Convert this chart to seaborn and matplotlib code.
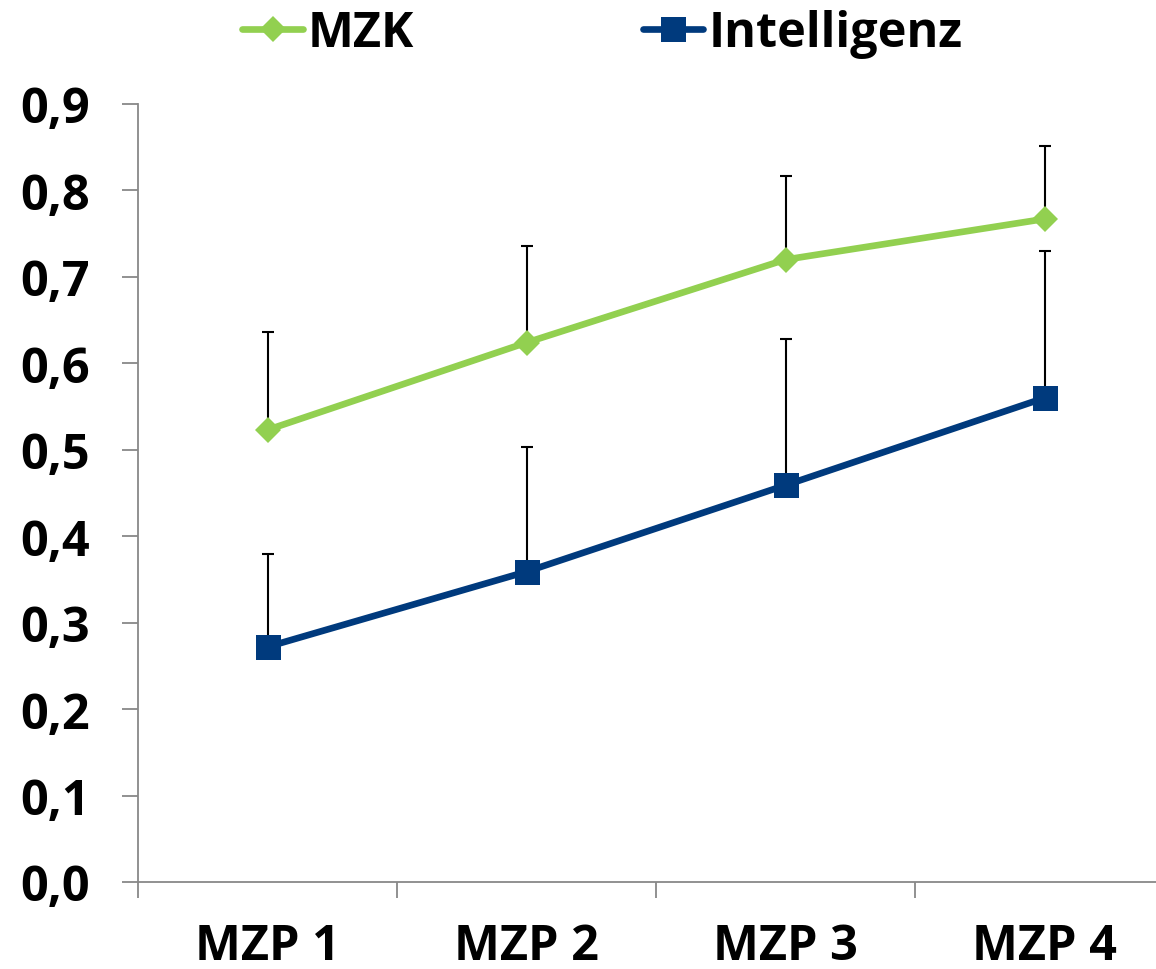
import numpy as np
import pandas as pd
import seaborn as sns
import matplotlib.pyplot as plt
from matplotlib.ticker import FixedLocator, FuncFormatter

# Messzeitpunkte und Werte
zeitpunkte = ["MZP 1", "MZP 2", "MZP 3", "MZP 4"]
mzk = [0.523, 0.624, 0.720, 0.767]
mzk_err = [0.113, 0.112, 0.097, 0.084]
intelligenz = [0.272, 0.359, 0.459, 0.560]
intelligenz_err = [0.107, 0.144, 0.169, 0.170]

colors = {"MZK": "#92D050", "Intelligenz": "#003A7D"}

df = pd.DataFrame({
    "pos": list(range(len(zeitpunkte))) * 2,
    "wert": mzk + intelligenz,
    "reihe": ["MZK"] * 4 + ["Intelligenz"] * 4,
})

sns.set_style("white", rc={"text.color": "black", "xtick.color": "black",
                           "ytick.color": "black", "axes.labelcolor": "black"})
plt.rcParams['font.family'] = ['Open Sans', 'DejaVu Sans']
plt.rcParams['font.weight'] = 'bold'

fig = plt.figure(figsize=(11.56, 9.70), dpi=100)
ax = fig.add_axes([138 / 1156, 87 / 970, 1036 / 1156, 778 / 970])

# Fehlerbalken nur nach oben
x = np.arange(len(zeitpunkte))
ax.errorbar(x, mzk, yerr=[np.zeros(4), mzk_err], fmt="none", ecolor="black",
            elinewidth=1.5, capsize=4.3, capthick=1.5, zorder=1)
ax.errorbar(x, intelligenz, yerr=[np.zeros(4), intelligenz_err], fmt="none", ecolor="black",
            elinewidth=1.5, capsize=4.3, capthick=1.5, zorder=1)

sns.lineplot(data=df, x="pos", y="wert", hue="reihe", style="reihe",
             palette=colors, markers={"MZK": "D", "Intelligenz": "s"},
             dashes=False, linewidth=4.8, markersize=13, markeredgewidth=0,
             ax=ax, legend=False, zorder=3)
# Quadrat etwas größer
for line in ax.lines:
    if line.get_marker() == "s":
        line.set_markersize(18)

ax.set_xlim(-0.5, 3.5)
ax.set_ylim(0, 0.9)
ax.set_xticks(x)
ax.set_xticklabels(zeitpunkte)
ax.xaxis.set_minor_locator(FixedLocator([-0.5, 0.5, 1.5, 2.5, 3.5]))
ax.set_yticks(np.arange(0, 0.91, 0.1))
ax.yaxis.set_major_formatter(FuncFormatter(lambda v, p: f"{v:.1f}".replace(".", ",")))
ax.set_xlabel("")
ax.set_ylabel("")

for s in ["top", "right"]:
    ax.spines[s].set_visible(False)
for s in ["left", "bottom"]:
    ax.spines[s].set_color("#888888")
    ax.spines[s].set_linewidth(1.3)

ax.tick_params(axis="x", which="major", bottom=True, length=0, pad=29, labelsize=35,
               labelcolor="black")
ax.tick_params(axis="x", which="minor", bottom=True, length=11.5, width=1.3,
               color="#888888", direction="out")
ax.tick_params(axis="y", left=True, length=11.5, width=1.3, color="#888888", direction="out",
               pad=23, labelsize=35, labelcolor="black")
for lbl in ax.get_xticklabels() + ax.get_yticklabels():
    lbl.set_fontweight("bold")

# Legende oben
handles = [
    plt.Line2D([], [], color=colors["MZK"], marker="D", markersize=13, markeredgewidth=0, linewidth=4.8),
    plt.Line2D([], [], color=colors["Intelligenz"], marker="s", markersize=18, markeredgewidth=0, linewidth=4.8),
]
fig.legend(handles, ["MZK", "Intelligenz"], loc="center", bbox_to_anchor=(0.521, 0.964),
           ncol=2, frameon=False, handlelength=1.25, handletextpad=0.1, columnspacing=4.7,
           prop={"size": 35, "weight": "bold"})

fig.savefig("out.png", dpi=100)
